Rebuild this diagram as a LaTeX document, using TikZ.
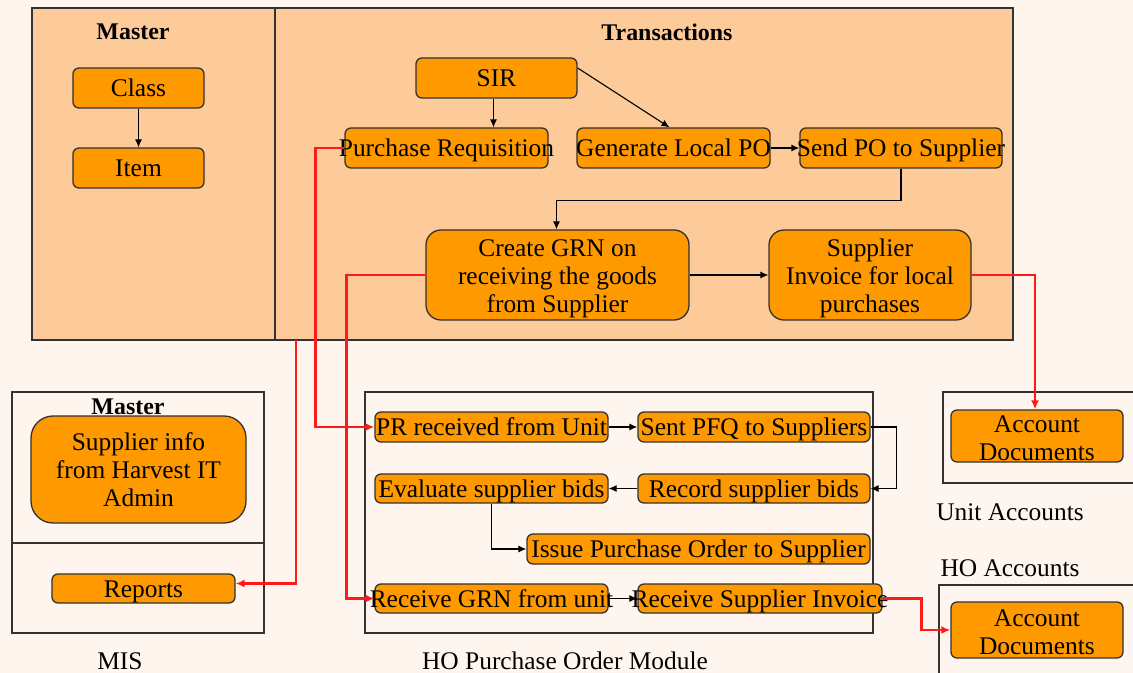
\documentclass[tikz,border=0pt]{standalone}
\usepackage{fontspec}
\setmainfont{Liberation Serif}
\usetikzlibrary{arrows.meta}
\definecolor{bgc}{HTML}{FEF6EE}
\definecolor{panelc}{HTML}{FDCB99}
\definecolor{boxc}{HTML}{FE9900}
\definecolor{edgec}{HTML}{333333}
\definecolor{redc}{HTML}{FF1A1A}
\newcommand{\ov}[1]{\makebox[0pt][c]{#1}}
\newcommand{\tallstrut}[1]{\rule{0pt}{#1}}
\tikzset{
  txt/.style={font=\fontsize{25.5}{28}\selectfont, inner sep=0pt},
  ttl/.style={font=\fontsize{24}{28}\selectfont\bfseries, inner sep=0pt},
  box/.style={draw=edgec, fill=boxc, line width=1.3bp, rounded corners=6bp, inner sep=0pt,
    font=\fontsize{25.5}{28}\selectfont, align=center},
  onebox/.style={box, text height=19bp, text depth=2bp},
  bigbox/.style={box, rounded corners=15bp},
  frame/.style={draw=edgec, line width=1.3bp},
  blk/.style={draw=black, line width=1.1bp, -{Latex[length=8bp,width=7bp]}},
  rd/.style={draw=redc, line width=2.4bp, -{Latex[length=9bp,width=8bp]}},
}
\begin{document}
\begin{tikzpicture}[x=1bp,y=-1bp]
\useasboundingbox (0,0) rectangle (1133,673);
\fill[bgc] (0,0) rectangle (1133,673);
% top panel
\node[frame, fill=panelc, minimum width=981bp, minimum height=332bp, inner sep=0pt] (top) at (522.5,174) {};
\draw[frame] (275,8) -- (275,340);
\node[ttl] (tmaster) at (133,32) {Master};
\node[ttl] (ttrans) at (667,32) {Transactions};
% bottom frames
\node[frame, minimum width=252bp, minimum height=241bp, inner sep=0pt] (mis) at (138,512.5) {};
\draw[frame] (12,543) -- (264,543);
\node[frame, minimum width=508bp, minimum height=241bp, inner sep=0pt] (hopo) at (619,512.5) {};
\draw[frame] (1140,392) -- (943,392) -- (943,483) -- (1140,483);
\draw[frame] (1140,585) -- (939,585) -- (939,680);
% labels
\node[ttl] (bmaster) at (128,407) {Master};
\node[txt] (lmis) at (120,661) {MIS};
\node[txt] (lhopo) at (565,661) {HO Purchase Order Module};
\node[txt] (lunit) at (1010,512) {Unit Accounts};
\node[txt] (lho) at (1010,568) {HO Accounts};
% top boxes
\node[onebox, minimum width=131bp, minimum height=40bp] (class) at (138.5,88) {Class};
\node[onebox, minimum width=131bp, minimum height=40bp] (item) at (138.5,168) {Item};
\node[onebox, minimum width=161bp, minimum height=40bp] (sir) at (496.5,78) {SIR};
\node[onebox, minimum width=203bp, minimum height=40bp] (pr) at (446.5,148) {\ov{Purchase Requisition}};
\node[onebox, minimum width=193bp, minimum height=40bp] (glp) at (673.5,148) {\ov{Generate Local PO}};
\node[onebox, minimum width=202bp, minimum height=40bp] (spo) at (901,148) {\ov{Send PO to Supplier}};
\node[bigbox, minimum width=263bp, minimum height=90bp] (grn) at (557.5,275) {\tallstrut{25bp}Create GRN on\\receiving the goods\\from Supplier};
\node[bigbox, minimum width=202bp, minimum height=90bp] (si) at (870,275) {\tallstrut{25bp}Supplier\\Invoice for local\\purchases};
% MIS boxes
\node[box, rounded corners=22bp, minimum width=215bp, minimum height=107bp] (sup) at (138.5,469.5) {Supplier info\\from Harvest IT\\Admin};
\node[onebox, minimum width=183bp, minimum height=29bp] (rep) at (143.5,588.5) {Reports};
% HO PO boxes
\node[onebox, minimum width=233bp, minimum height=30bp] (prr) at (491.5,427) {\ov{PR received from Unit}};
\node[onebox, minimum width=232bp, minimum height=30bp] (pfq) at (754,427) {\ov{Sent PFQ to Suppliers}};
\node[onebox, minimum width=233bp, minimum height=29bp] (eval) at (491.5,488.5) {\ov{Evaluate supplier bids}};
\node[onebox, minimum width=232bp, minimum height=29bp] (rec) at (754,488.5) {\ov{Record supplier bids}};
\node[onebox, minimum width=343bp, minimum height=30bp] (ipo) at (698.5,549) {\ov{Issue Purchase Order to Supplier}};
\node[onebox, minimum width=233bp, minimum height=29bp] (rgrn) at (491.5,598.5) {\ov{Receive GRN from unit}};
\node[onebox, minimum width=244bp, minimum height=29bp] (rsi) at (760,598.5) {\ov{Receive Supplier Invoice}};
% accounts
\node[box, minimum width=172bp, minimum height=52bp] (ad1) at (1037,436) {\tallstrut{21bp}Account\\Documents};
\node[box, minimum width=172bp, minimum height=56bp] (ad2) at (1037,630) {\tallstrut{21bp}Account\\Documents};
% black connectors
\draw[blk] (class.south) -- (item.north);
\draw[blk] ([xshift=-3bp]sir.south) -- ([xshift=-3bp]sir.south |- pr.north);
\draw[blk] ([yshift=10bp]sir.east) -- ([xshift=-4bp]glp.north);
\draw[blk] (glp.east) -- (spo.west);
\draw[blk] (spo.south) -- ++(0,32) -| ([xshift=-1bp]grn.north);
\draw[blk] (grn.east) -- (si.west);
\draw[blk] (prr.east) -- (pfq.west);
\draw[blk] (pfq.east) -- ++(26,0) |- (rec.east);
\draw[blk] (rec.west) -- (eval.east);
\draw[blk] (eval.south) |- (ipo.west);
\draw[blk] (rgrn.east) -- (rsi.west);
% red connectors
\coordinate (rp) at (296,340);
\draw[rd] (pr.west) -- ++(-29,0) |- (prr.west);
\draw[rd] (grn.west) -- ++(-79,0) |- (rgrn.west);
\draw[rd] (rp) |- ([yshift=5bp]rep.east);
\draw[rd] (si.east) -| ([xshift=-2bp]ad1.north);
\draw[rd] (rsi.east) -- ++(39,0) |- (ad2.west);
\end{tikzpicture}
\end{document}
